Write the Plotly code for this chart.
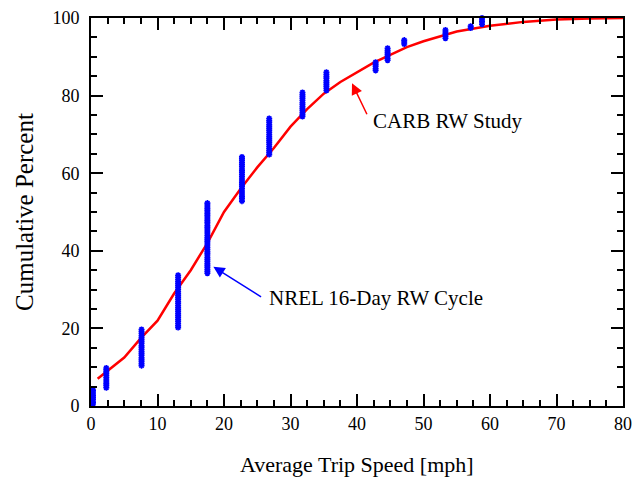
import plotly.graph_objects as go

# CARB RW Study cumulative curve
carb_x = [1, 2.5, 5, 7.5, 10, 12.5, 15, 17.5, 20, 22.5, 25, 27.5, 30, 32.5, 35,
          37.5, 40, 42.5, 45, 47.5, 50, 55, 60, 65, 70, 75, 80]
carb_y = [7, 9, 12.5, 17.5, 22, 29, 35, 42, 50, 56, 61.5, 66.5, 72, 76.5, 80.5,
          83.5, 86, 88.5, 90.5, 92.5, 94, 96.5, 98, 99, 99.6, 99.9, 100]

# NREL 16-Day RW Cycle trips (speed, cumulative percent)
nrel_clusters = [
    (0.3, [0.5, 1.0, 1.6, 2.1, 2.6, 3.1, 3.6, 4.1]),
    (2.3, [4.7, 5.2, 5.7, 6.2, 6.7, 7.3, 7.8, 8.3, 8.8, 9.3, 9.8]),
    (7.6, [10.4, 10.9, 11.4, 11.9, 12.4, 13.0, 13.5, 14.0, 14.5, 15.0, 15.5,
           16.1, 16.6, 17.1, 17.6, 18.1, 18.7, 19.2, 19.7]),
    (13.1, [20.2, 20.7, 21.2, 21.8, 22.3, 22.8, 23.3, 23.8, 24.4, 24.9, 25.4,
            25.9, 26.4, 26.9, 27.5, 28.0, 28.5, 29.0, 29.5, 30.1, 30.6, 31.1,
            31.6, 32.1, 32.6, 33.2, 33.7]),
    (17.5, [34.2, 34.7, 35.2, 35.8, 36.3, 36.8, 37.3, 37.8, 38.3, 38.9, 39.4,
            39.9, 40.4, 40.9, 41.5, 42.0, 42.5, 43.0, 43.5, 44.0, 44.6, 45.1,
            45.6, 46.1, 46.6, 47.2, 47.7, 48.2, 48.7, 49.2, 49.7, 50.3, 50.8,
            51.3, 51.8, 52.3]),
    (22.7, [52.8, 53.4, 53.9, 54.4, 54.9, 55.4, 56.0, 56.5, 57.0, 57.5, 58.0,
            58.5, 59.1, 59.6, 60.1, 60.6, 61.1, 61.7, 62.2, 62.7, 63.2, 63.7,
            64.2]),
    (26.8, [64.8, 65.3, 65.8, 66.3, 66.8, 67.4, 67.9, 68.4, 68.9, 69.4, 69.9,
            70.5, 71.0, 71.5, 72.0, 72.5, 73.1, 73.6, 74.1]),
    (31.8, [74.6, 75.1, 75.6, 76.2, 76.7, 77.2, 77.7, 78.2, 78.8, 79.3, 79.8,
            80.3, 80.8]),
    (35.4, [81.3, 81.9, 82.4, 82.9, 83.4, 83.9, 84.5, 85.0, 85.5, 86.0]),
    (42.8, [86.5, 87.0, 87.6, 88.1, 88.6]),
    (44.6, [89.1, 89.6, 90.2, 90.7, 91.2, 91.7, 92.2]),
    (47.1, [93.3, 93.8, 94.3]),
    (53.3, [94.8, 95.3, 95.9, 96.4, 96.9]),
    (57.1, [97.4, 97.9]),
    (58.8, [98.4, 99.0, 99.5, 100.0]),
]

nrel_x = []
nrel_y = []
for sx, ys in nrel_clusters:
    for yv in ys:
        nrel_x.append(sx)
        nrel_y.append(yv)

x_ticks = [0, 10, 20, 30, 40, 50, 60, 70, 80]
y_ticks = [0, 20, 40, 60, 80, 100]

FONT = "Liberation Serif, Times New Roman, serif"

fig = go.Figure()
fig.add_trace(go.Scatter(x=carb_x, y=carb_y, mode="lines",
                         line=dict(color="#ff0000", width=2.5),
                         showlegend=False, cliponaxis=True))
fig.add_trace(go.Scatter(x=nrel_x, y=nrel_y, mode="markers",
                         marker=dict(symbol="asterisk-open", size=5,
                                     color="#0000ff",
                                     line=dict(color="#0000ff", width=1.6)),
                         showlegend=False, cliponaxis=False))

axis_common = dict(showline=True, linecolor="black", linewidth=2, mirror="allticks",
                   ticks="inside", ticklen=12, tickwidth=1.5, tickcolor="black",
                   showgrid=False, zeroline=False, automargin=False,
                   tickfont=dict(family=FONT, size=18, color="black"))

fig.update_xaxes(range=[0, 80], tickvals=x_ticks,
                 minor=dict(dtick=2.5, ticks="inside", ticklen=6, tickwidth=1.5,
                            tickcolor="black", showgrid=False),
                 **axis_common)
fig.update_yaxes(range=[0, 100], tickvals=y_ticks, ticklabelstandoff=6,
                 minor=dict(dtick=5, ticks="inside", ticklen=6, tickwidth=1.5,
                            tickcolor="black", showgrid=False),
                 **axis_common)

annotations = [
    dict(x=39.25, y=83.2, ax=41.6, ay=74.8, xref="x", yref="y", axref="x", ayref="y",
         text="", showarrow=True, arrowhead=2, arrowsize=1.5, arrowwidth=1.5,
         arrowcolor="#ff0000"),
    dict(x=42.1, y=73.4, xref="x", yref="y", text="CARB RW Study", showarrow=False,
         xanchor="left", yanchor="middle",
         font=dict(family=FONT, size=21, color="black")),
    dict(x=18.4, y=35.9, ax=25.8, ay=27.9, xref="x", yref="y", axref="x", ayref="y",
         text="", showarrow=True, arrowhead=2, arrowsize=1.5, arrowwidth=1.5,
         arrowcolor="#0000ff"),
    dict(x=26.5, y=27.8, xref="x", yref="y", text="NREL 16-Day RW Cycle",
         showarrow=False, xanchor="left", yanchor="middle",
         font=dict(family=FONT, size=21, color="black")),
    dict(x=0.5, y=-0.152, xref="paper", yref="paper",
         text="Average Trip Speed [mph]", showarrow=False,
         xanchor="center", yanchor="middle",
         font=dict(family=FONT, size=22, color="black")),
    dict(x=-0.126, y=0.5, xref="paper", yref="paper",
         text="Cumulative Percent", showarrow=False, textangle=-90,
         xanchor="center", yanchor="middle",
         font=dict(family=FONT, size=25, color="black")),
]

# the page adds an 8px body margin, so the figure is drawn 8px smaller
fig.update_layout(width=636, height=471,
                  margin=dict(l=83, r=21, t=10, b=73, autoexpand=False),
                  paper_bgcolor="white", plot_bgcolor="white",
                  annotations=annotations,
                  font=dict(family=FONT, color="black"))

fig.write_html("out.html")
